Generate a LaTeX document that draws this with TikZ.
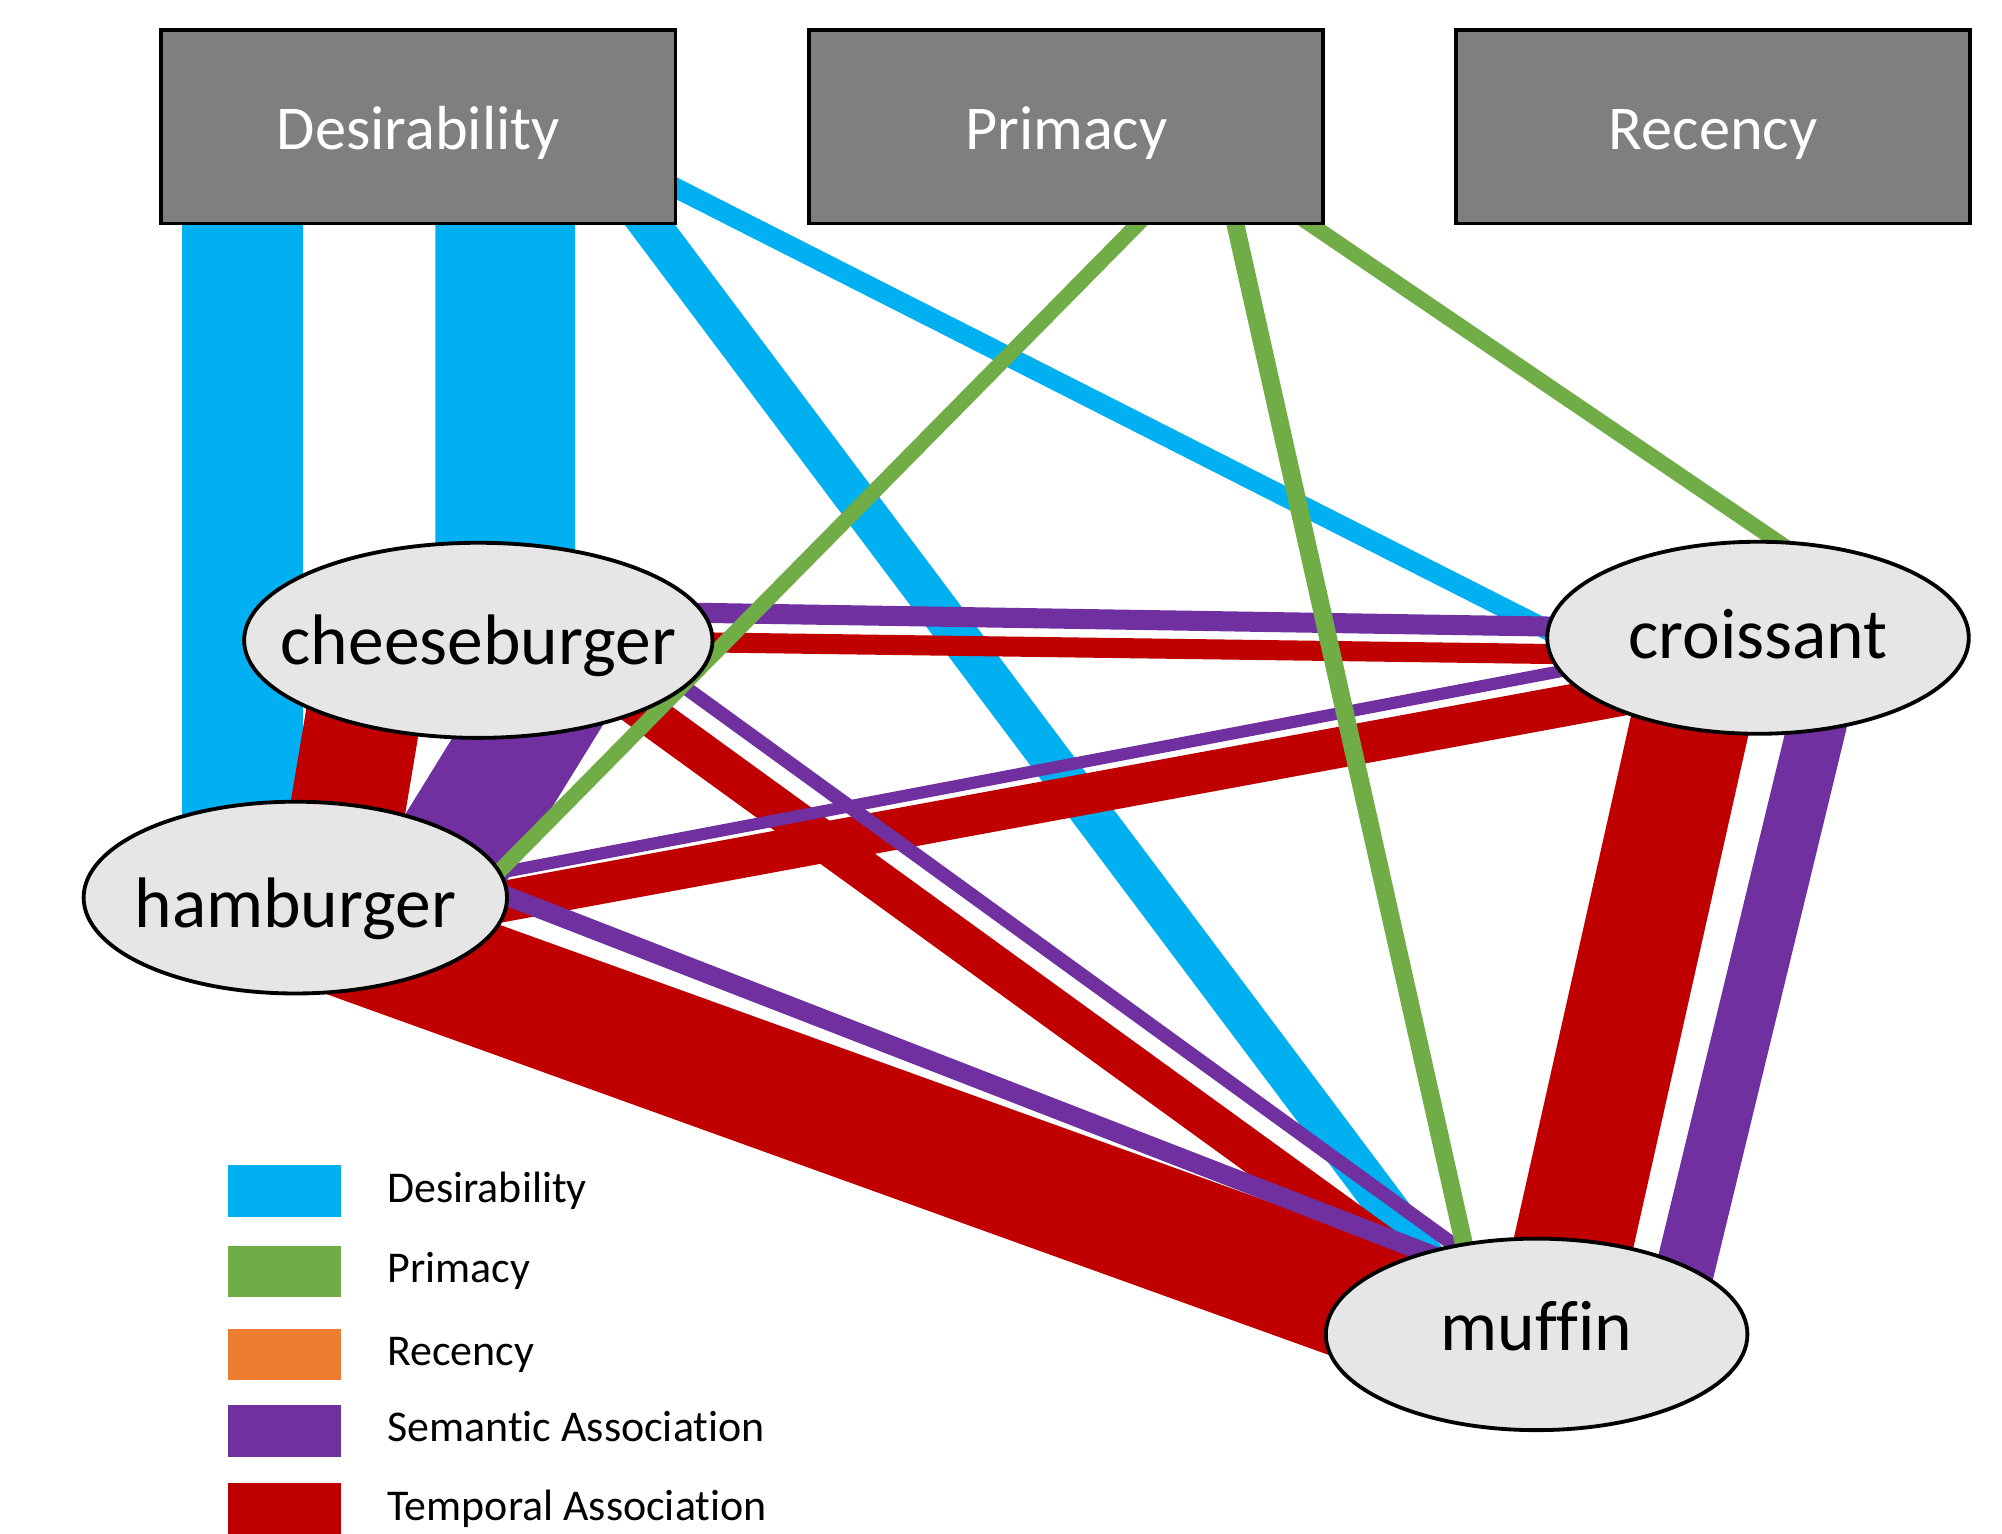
\documentclass[tikz,border=0pt]{standalone}
\usepackage{fontspec}
\setmainfont{Carlito}[Ligatures=NoCommon]
\usetikzlibrary{shapes.geometric,calc}
\definecolor{cBlue}{HTML}{00B0F0}
\definecolor{cGreen}{HTML}{70AD47}
\definecolor{cOrange}{HTML}{ED7D31}
\definecolor{cPurple}{HTML}{7030A0}
\definecolor{cRed}{HTML}{C00000}
\definecolor{cBox}{HTML}{7F7F7F}
\definecolor{cNode}{HTML}{E6E6E6}
\pgfdeclarelayer{bg}
\pgfsetlayers{bg,main}
\begin{document}
\begin{tikzpicture}[x=0.5pt,y=-0.5pt,
  factor/.style={rectangle, fill=cBox, draw=black, line width=1.5pt,
    minimum width=201.3pt, minimum height=75.8pt, inner sep=0pt,
    text=white, font=\fontsize{24.4}{29}\selectfont,
    text height=25pt, text depth=7.6pt},
  item/.style={ellipse, fill=cNode, draw=black, line width=1.5pt,
    inner sep=0pt, font=\fontsize{28}{34}\selectfont, text height=30pt},
  legsq/.style={rectangle, draw=none, minimum width=44.2pt,
    minimum height=20.25pt, inner sep=0pt},
  legtx/.style={anchor=base west, inner sep=0pt,
    font=\fontsize{17.2}{21}\selectfont}]
\useasboundingbox (0,0) rectangle (1568,1201);

% factor boxes
\node[factor] (des) at (327.7,99.3) {Desirability};
\node[factor] (pri) at (835.1,99.3) {Primacy};
\node[factor] (rec) at (1341.7,99.3) {Recency};

% items
\node[item, minimum width=183.4pt, minimum height=76.4pt, text depth=11pt] (chb) at (374.6,501.5) {\makebox[0pt]{cheeseburger}};
\node[item, minimum width=165.1pt, minimum height=75.2pt, text depth=14pt] (cro) at (1376.9,499.5) {\makebox[0pt]{croissant}};
\node[item, minimum width=165.8pt, minimum height=75.1pt, text depth=6.5pt] (ham) at (231.3,703) {\makebox[0pt]{hamburger}};
\node[item, minimum width=165.1pt, minimum height=75pt, text depth=17pt] (muf) at (1203.5,1045.1) {\makebox[0pt]{muffin}};

\begin{pgfonlayer}{bg}
% Desirability (blue)
\draw[cBlue, line width=47.25pt] ($(des)+(-137.7,0.7)$) -- ($(ham)+(-41.3,-23)$);
\draw[cBlue, line width=54.75pt] ($(des)+(68,0)$) -- ($(chb)+(21.15,0)$);
\draw[cBlue, line width=15.75pt] ($(des)+(139.3,20.7)$) -- ($(muf)+(-53.9,-15.1)$);
\draw[cBlue, line width=7.75pt] ($(des)+(122.3,7.7)$) -- ($(cro)+(-76.9,38.5)$);
% Temporal association (red)
\draw[cRed, line width=45pt] ($(chb)+(-83.2,18.5)$) -- ($(ham)+(33.3,-23)$);
\draw[cRed, line width=7.85pt] ($(chb)+(45.4,-0.2)$) -- ($(cro)+(-46.9,14.3)$);
\draw[cRed, line width=15.75pt] ($(chb)+(55.4,1.5)$) -- ($(muf)+(-53.5,-20.1)$);
\draw[cRed, line width=16pt] ($(ham)+(68.7,20.4)$) -- ($(cro)+(-46.9,34.1)$);
\draw[cRed, line width=48.5pt] ($(ham)+(18.7,22)$) -- ($(muf)+(-53.5,3.9)$);
\draw[cRed, line width=46.5pt] ($(cro)+(-42.7,20.5)$) -- ($(muf)+(18.5,-25.1)$);
% Semantic association (purple)
\draw[cPurple, line width=47.5pt] ($(chb)+(82.4,0.5)$) -- ($(ham)+(109.7,-13)$);
\draw[cPurple, line width=7.85pt] ($(chb)+(45.4,-23.6)$) -- ($(cro)+(-46.9,-6.9)$);
\draw[cPurple, line width=4.75pt] ($(ham)+(68.7,-2.1)$) -- ($(cro)+(-46.9,5.7)$);
\draw[cPurple, line width=7.5pt] ($(ham)+(68.7,-38.8)$) -- ($(muf)+(-53.5,-51.1)$);
\draw[cPurple, line width=5.5pt] ($(chb)+(75.4,-25.9)$) -- ($(muf)+(-43.5,-54.7)$);
\draw[cPurple, line width=23pt] ($(cro)+(55.5,30.5)$) -- ($(muf)+(105.2,-5.1)$);
% Primacy (green)
\draw[cGreen, line width=6pt] ($(pri)+(104.9,26.7)$) -- ($(ham)+(152.3,-13)$);
\draw[cGreen, line width=7pt] ($(pri)+(120,20.7)$) -- ($(muf)+(-48.9,-35.1)$);
\draw[cGreen, line width=6pt] ($(pri)+(138.7,40.7)$) -- ($(cro)+(43.1,-56.5)$);
\end{pgfonlayer}

% legend
\node[legsq, fill=cBlue]   (lgD) at (223,932.75) {};
\node[legsq, fill=cGreen]  (lgP) at (223,995.9) {};
\node[legsq, fill=cOrange] (lgR) at (223,1060.9) {};
\node[legsq, fill=cPurple] (lgS) at (223,1120.5) {};
\node[legsq, fill=cRed]    (lgT) at (223,1181.9) {};
\node[legtx] (ltD) at ($(lgD)+(80,8.75)$) {Desirability};
\node[legtx] (ltP) at ($(lgP)+(80,8.75)$) {Primacy};
\node[legtx] (ltR) at ($(lgR)+(80,8.75)$) {Recency};
\node[legtx] (ltS) at ($(lgS)+(80,8.75)$) {Semantic Association};
\node[legtx] (ltT) at ($(lgT)+(80,8.75)$) {Temporal Association};
\end{tikzpicture}
\end{document}
